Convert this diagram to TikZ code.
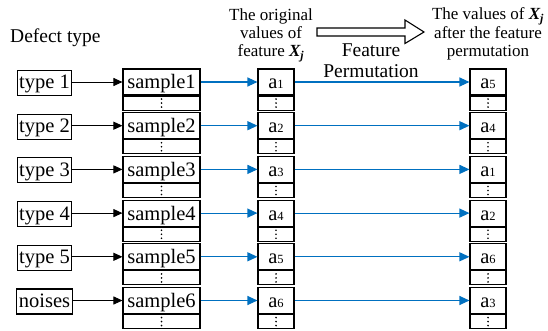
\documentclass[tikz,border=0pt]{standalone}
\usepackage{fontspec}
\setmainfont{Liberation Serif}
\newfontfamily\tnr{Liberation Serif}
\usetikzlibrary{arrows.meta}
\definecolor{arrblue}{HTML}{0070C0}
\tikzset{
  boxfont/.style={font=\tnr\fontsize{20.5}{22}\selectfont},
  cellbox/.style={draw, line width=1.1pt, inner sep=0pt, boxfont, text height=18pt, text depth=4pt},
  typebox/.style={draw, line width=1.1pt, inner sep=0pt, boxfont, minimum height=25pt, text height=17pt, text depth=5pt, inner xsep=2pt},
  sampbox/.style={cellbox, minimum width=77pt, minimum height=26pt},
  sampdots/.style={draw, line width=1.1pt, inner sep=0pt, minimum width=77pt, minimum height=14pt},
  valbox/.style={cellbox, minimum width=36pt, minimum height=26pt},
  valdots/.style={draw, line width=1.1pt, inner sep=0pt, minimum width=36pt, minimum height=14pt},
  blackarr/.style={line width=0.9pt, -{Triangle[length=9pt,width=8pt]}},
  bluearr/.style={draw=arrblue, line width=1.1pt, -{Triangle[length=10pt,width=9pt]}, arrblue},
  toplabel/.style={align=center, inner sep=0pt, anchor=north, font=\tnr\fontsize{17}{18.3}\selectfont},
  midlabel/.style={inner sep=0pt, anchor=base, font=\tnr\fontsize{19.5}{21}\selectfont},
}
\newcommand{\aval}[1]{a{\fontsize{12.5}{13}\selectfont #1}}
\newcommand{\Xj}{\textbf{\textit{X\textsubscript{j}}}}
\begin{document}
\begin{tikzpicture}[x=1pt,y=-1pt]
\useasboundingbox (0,0) rectangle (548,331);
\node[midlabel, anchor=base west] (deftype) at (10,43) {Defect type};
\node[toplabel] (origlab) at (271,8.4) {The original\\values of\\feature \Xj};
\node[toplabel] (afterlab) at (488,7.6) {The values of \Xj\\after the feature\\permutation};
\node[midlabel] (featlab) at (371,57) {Feature};
\node[midlabel] (permlab) at (371,78) {Permutation};
\draw[line width=1.1pt] (317,28) -- (405,28) -- (405,20) -- (424,32) -- (405,43.5) -- (405,36) -- (317,36) -- cycle;
\foreach \i/\lab/\p in {1/type 1/5, 2/type 2/4, 3/type 3/1, 4/type 4/2, 5/type 5/6, 6/noises/3}{
  \pgfmathsetmacro{\rowtop}{69+43.7*(\i-1)}
  \node[typebox] (t\i) at (44.5,\rowtop+14) {\lab};
  \node[sampbox] (s\i) at (161.5,\rowtop+13) {sample\i};
  \node[sampdots, anchor=north] (s\i d) at (s\i.south) {};
  \node[valbox] (a\i) at (276,\rowtop+13) {\aval{\i}};
  \node[valdots, anchor=north] (a\i d) at (a\i.south) {};
  \node[valbox] (b\i) at (488,\rowtop+13) {\aval{\p}};
  \node[valdots, anchor=north] (b\i d) at (b\i.south) {};
  \foreach \nn in {s\i d, a\i d, b\i d}{
    \foreach \dd in {-4,0,4}{
      \fill ([yshift=\dd pt]\nn.center) circle (0.9pt);
    }
  }
  \draw[blackarr] (t\i.east |- s\i.west) -- (s\i.west);
  \draw[bluearr] (s\i.east) -- (a\i.west);
  \draw[bluearr] (a\i.east) -- (b\i.west);
}
\end{tikzpicture}
\end{document}
